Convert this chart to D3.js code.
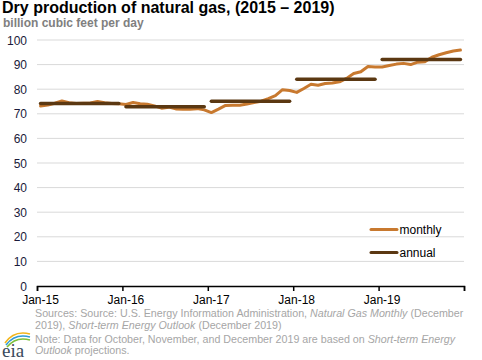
<!DOCTYPE html>
<html><head><meta charset="utf-8">
<script src="https://cdn.jsdelivr.net/npm/d3@7"></script>
<style>
body{margin:0;background:#fff;}
svg{font-family:"Liberation Sans",Arial,sans-serif;}
</style></head>
<body><svg id="c" width="482" height="360"></svg>
<script>
const monthly = [73.2,73.6,74.3,75.2,74.5,74.2,74.3,74.4,75.0,74.5,74.2,74.1,
73.8,74.6,74.1,73.9,73.2,72.3,72.7,72.0,71.8,71.8,72.1,71.6,
70.5,71.9,73.4,73.5,73.5,74.0,74.6,75.1,76.2,77.4,79.8,79.5,
78.7,80.3,82.0,81.6,82.3,82.5,83.0,84.4,86.4,87.1,89.2,89.0,
89.0,89.6,90.2,90.5,90.0,91.0,91.2,93.0,94.0,94.8,95.5,95.9];
const years = [2015,2016,2017,2018,2019];
const annual = [74.2,72.9,75.1,84.0,92.1];
const xTickLabels = ["Jan-15","Jan-16","Jan-17","Jan-18","Jan-19",""];
const yTicks = [0,10,20,30,40,50,60,70,80,90,100];

const svg = d3.select("#c");
const L=37,R=464,T=40,B=286;
const x = d3.scaleLinear().domain([0,60]).range([L,R]);
const y = d3.scaleLinear().domain([0,100]).range([B,T]);

svg.append("text").attr("x",2).attr("y",12.5).attr("font-size",16).attr("font-weight","bold").attr("fill","#000")
  .text("Dry production of natural gas, (2015 \u2013 2019)");
svg.append("text").attr("x",3).attr("y",26.5).attr("font-size",12).attr("font-weight","bold").attr("fill","#808080")
  .text("billion cubic feet per day");

// grid
svg.append("g").selectAll("line").data(yTicks.filter(d=>d>0)).join("line")
  .attr("x1",L).attr("x2",R).attr("y1",d=>y(d)).attr("y2",d=>y(d))
  .attr("stroke","#d9d9d9").attr("stroke-width",1);
// y labels
svg.append("g").selectAll("text").data(yTicks).join("text")
  .attr("x",27).attr("y",d=>y(d)+4.5).attr("text-anchor","end").attr("font-size",12).attr("fill","#1a1a3a")
  .text(d=>d);

// x axis
const xAxis = d3.axisBottom(x).tickValues([0,12,24,36,48,60]).tickSize(5).tickFormat((d,i)=>xTickLabels[i]);
const gx = svg.append("g").attr("transform",`translate(0,${B})`).call(xAxis);
gx.select(".domain").attr("stroke","#000").attr("stroke-width",1.5);
gx.selectAll(".tick line").attr("stroke","#000").attr("stroke-width",1.5);
gx.selectAll(".tick text").attr("font-size",12).attr("fill","#000").attr("dy","0.85em").attr("dx",3)
  .attr("font-family","Liberation Sans, Arial, sans-serif");

// monthly line
const line = d3.line().x((d,i)=>x(i+0.5)).y(d=>y(d));
svg.append("path").datum(monthly).attr("d",line).attr("fill","none")
  .attr("stroke","#c8792f").attr("stroke-width",3).attr("stroke-linejoin","round").attr("stroke-linecap","round");
// annual
svg.append("g").selectAll("line").data(annual).join("line")
  .attr("x1",(d,i)=>x(i*12+0.5)).attr("x2",(d,i)=>x(i*12+11.5))
  .attr("y1",d=>y(d)).attr("y2",d=>y(d))
  .attr("stroke","#5b3812").attr("stroke-width",3.5).attr("stroke-linecap","round");

// legend
const leg=[{t:"monthly",c:"#c8792f",yy:229.5},{t:"annual",c:"#5b3812",yy:252.5}];
leg.forEach(l=>{
  svg.append("line").attr("x1",371).attr("x2",397).attr("y1",l.yy).attr("y2",l.yy).attr("stroke",l.c).attr("stroke-width",3).attr("stroke-linecap","round");
  svg.append("text").attr("x",399.5).attr("y",l.yy+4.5).attr("font-size",12).attr("fill","#000").text(l.t);
});

// sources
const fs=10.7, gc="#a6a6a6";
function para(yy, parts){
  const t=svg.append("text").attr("x",35).attr("y",yy).attr("font-size",fs).attr("fill",gc);
  parts.forEach(p=>t.append("tspan").attr("font-style",p[1]?"italic":"normal").text(p[0]));
}
para(317,[["Sources: Source: U.S. Energy Information Administration, ",0],["Natural Gas Monthly",1],[" (December",0]]);
para(328.5,[["2019), ",0],["Short-term Energy Outlook",1],[" (December 2019)",0]]);
para(342.5,[["Note: Data for October, November, and December 2019 are based on ",0],["Short-term Energy",1]]);
para(354,[["Outlook",1],[" projections.",0]]);

// eia logo
const lg=svg.append("g");
lg.append("path").attr("d","M5,343 Q14,330 30,334").attr("fill","none").attr("stroke","#f2b51c").attr("stroke-width",1.6);
lg.append("path").attr("d","M6,345 Q15,333 30,337").attr("fill","none").attr("stroke","#2f9ad6").attr("stroke-width",1.6);
lg.append("path").attr("d","M7,347 Q16,336 30,340").attr("fill","none").attr("stroke","#7cbf3a").attr("stroke-width",1.6);
lg.append("text").attr("x",2).attr("y",357).attr("font-family","Liberation Serif, serif").attr("font-size",19).attr("fill","#3a4a5c").text("eia");
</script></body></html>
